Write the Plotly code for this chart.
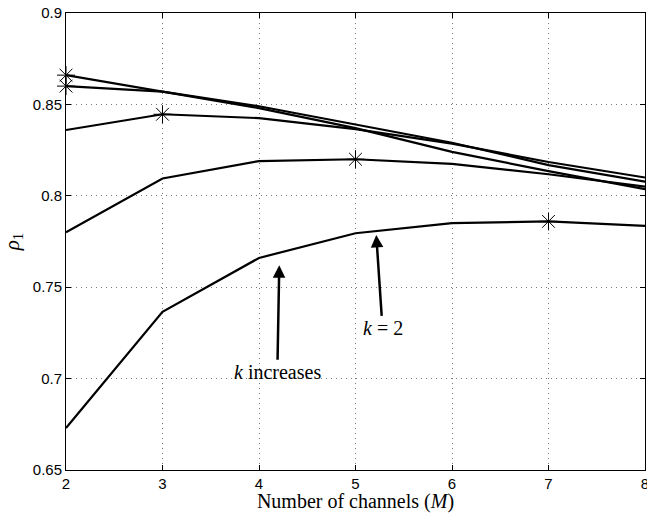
import plotly.graph_objects as go
import numpy as np

M = [2, 3, 4, 5, 6, 7, 8]
rho_k2 = [0.673, 0.7365, 0.766, 0.7795, 0.785, 0.786, 0.7835]
rho_k3 = [0.780, 0.8095, 0.819, 0.820, 0.8175, 0.8118, 0.805]
rho_k4 = [0.836, 0.8446, 0.8425, 0.8365, 0.8285, 0.8185, 0.810]
rho_k5 = [0.860, 0.857, 0.849, 0.839, 0.829, 0.8168, 0.8077]
rho_k6 = [0.866, 0.857, 0.848, 0.837, 0.824, 0.8135, 0.8036]
series = [rho_k2, rho_k3, rho_k4, rho_k5, rho_k6]

yticks = [0.65, 0.7, 0.75, 0.8, 0.85, 0.9]
ytick_labels = ["0.65", "0.7", "0.75", "0.8", "0.85", "0.9"]
xticks = [2, 3, 4, 5, 6, 7, 8]

fig = go.Figure()
for s in series:
    fig.add_trace(go.Scatter(x=M, y=s, mode="lines",
                             line=dict(color="black", width=2.2),
                             showlegend=False, hoverinfo="skip"))
for s in series:
    i = int(np.argmax(s))
    fig.add_trace(go.Scatter(x=[M[i]], y=[s[i]], mode="markers", cliponaxis=False,
                             marker=dict(symbol="asterisk-open", size=15, color="black",
                                         line=dict(color="black", width=1)),
                             showlegend=False, hoverinfo="skip"))

serif = "Liberation Serif, Times New Roman, serif"
sans = "Liberation Sans, Arial, sans-serif"

axis_common = dict(showline=True, linecolor="black", linewidth=1, mirror="ticks",
                   ticks="inside", ticklen=5, tickcolor="black", automargin=False,
                   showgrid=True, gridcolor="#777777", griddash="1px,4px", gridwidth=1,
                   zeroline=False, ticklabeloverflow="allow",
                   tickfont=dict(family=sans, size=15, color="black"))

fig.update_layout(
    width=647, height=513,
    margin=dict(l=66, r=2, t=13, b=43),
    plot_bgcolor="white", paper_bgcolor="white",
    xaxis=dict(range=[2, 8], tickvals=xticks,
               title=dict(text="Number of channels (<i>M</i>)", standoff=0,
                          font=dict(family=serif, size=20, color="black")),
               **axis_common),
    yaxis=dict(range=[0.65, 0.9], tickvals=yticks, ticktext=ytick_labels,
               title=dict(text="<i>ρ</i><sub>1</sub>", standoff=8,
                          font=dict(family=serif, size=21, color="black")),
               **axis_common),
    annotations=[
        dict(x=4.21, y=0.762, ax=4.19, ay=0.7035, axref="x", ayref="y",
             text="<i>k</i> increases", showarrow=True, arrowhead=2,
             arrowsize=1, arrowwidth=2.5, arrowcolor="black",
             font=dict(family=serif, size=20, color="black")),
        dict(x=5.215, y=0.7786, ax=5.28, ay=0.7275, axref="x", ayref="y",
             text="<i>k</i> = 2", showarrow=True, arrowhead=2,
             arrowsize=1, arrowwidth=2.5, arrowcolor="black",
             font=dict(family=serif, size=20, color="black")),
    ],
)

fig.write_html("out.html")
